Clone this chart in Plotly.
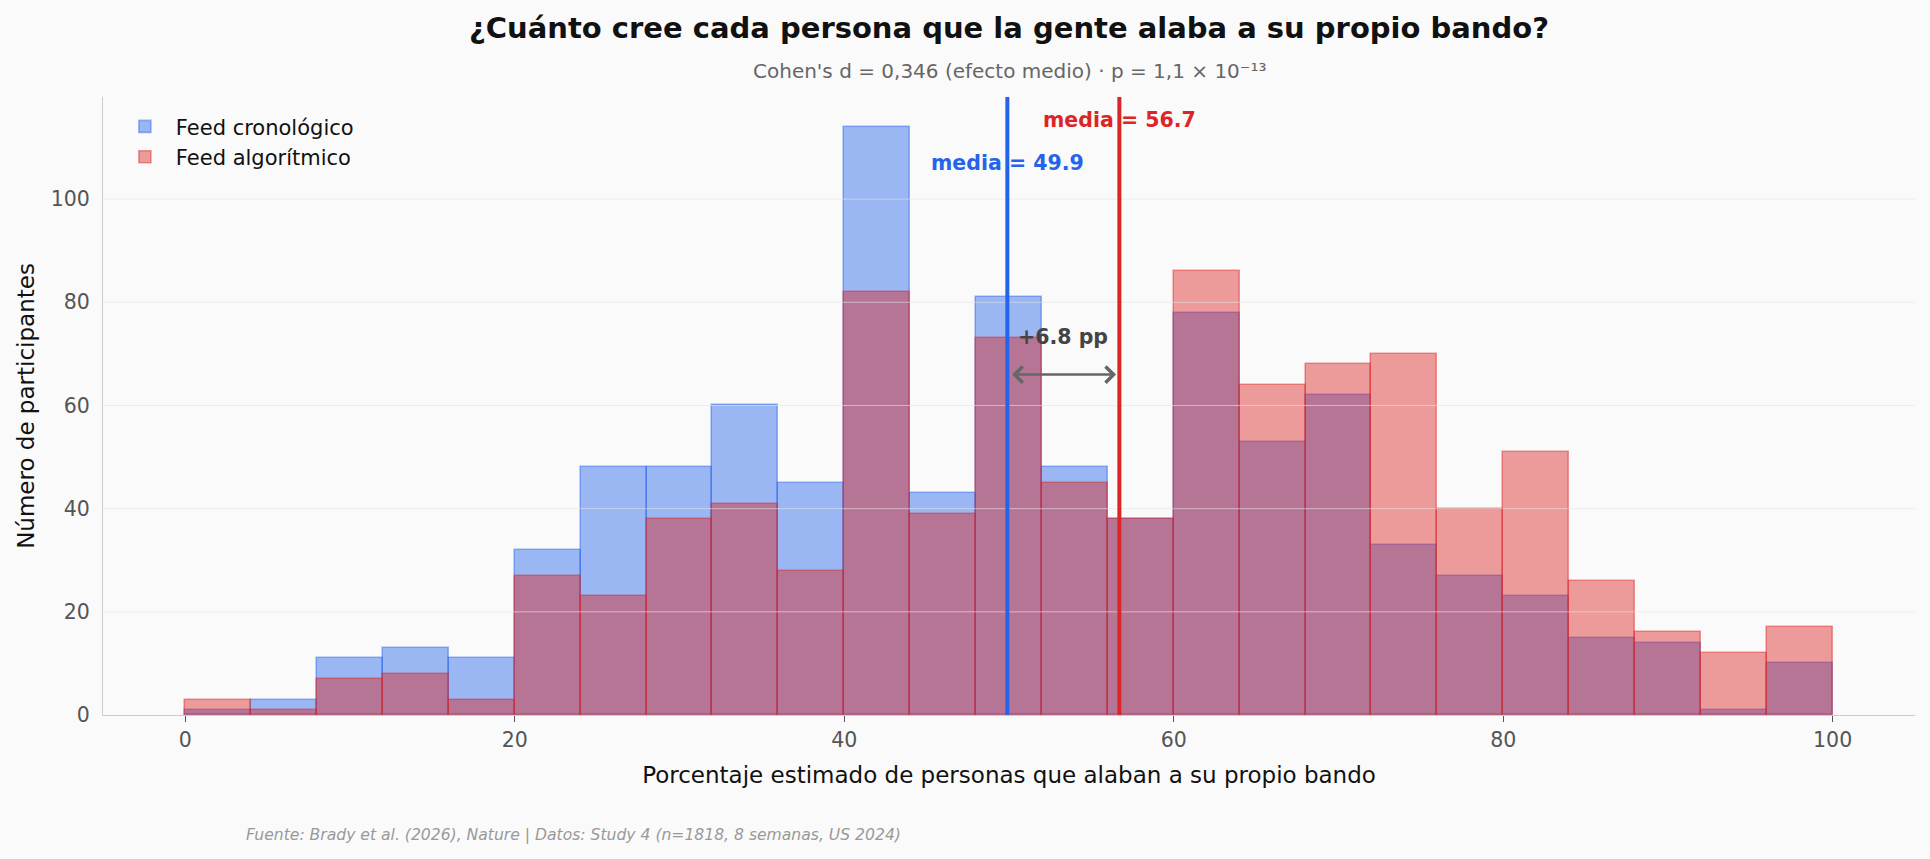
import plotly.graph_objects as go

# --- data ---
bin_starts = [0, 4, 8, 12, 16, 20, 24, 28, 32, 36, 40, 44, 48, 52, 56, 60, 64, 68, 72, 76, 80, 84, 88, 92, 96]
bin_width = 4
cronologico = [1, 3, 11, 13, 11, 32, 48, 48, 60, 45, 114, 43, 81, 48, 38, 78, 53, 62, 33, 27, 23, 15, 14, 1, 10]
algoritmico = [3, 1, 7, 8, 3, 27, 23, 38, 41, 28, 82, 39, 73, 45, 38, 86, 64, 68, 70, 40, 51, 26, 16, 12, 17]
mean_crono = 49.9
mean_algo = 56.7
diff_label = "+6.8 pp"
x_ticks = [0, 20, 40, 60, 80, 100]
y_ticks = [0, 20, 40, 60, 80, 100]

BLUE = "#2563eb"
RED = "#dc2626"
BLUE_A = "rgba(37,99,235,0.45)"
RED_A = "rgba(220,38,38,0.45)"
FONT = "DejaVu Sans"

# plot area in pixels (for placing texts outside the plot)
W, H = 1930, 859
ML, MR, MT, MB = 103, 15, 97, 144
PW, PH = W - ML - MR, H - MT - MB


def py(pix_y):
    return (H - MB - pix_y) / PH


def px(pix_x):
    return (pix_x - ML) / PW


centers = [b + bin_width / 2 for b in bin_starts]

fig = go.Figure()
fig.add_trace(go.Bar(
    x=centers, y=cronologico, width=bin_width, name="Feed cronológico",
    marker=dict(color=BLUE_A, line=dict(color=BLUE_A, width=1.6)),
))
fig.add_trace(go.Bar(
    x=centers, y=algoritmico, width=bin_width, name="Feed algorítmico",
    marker=dict(color=RED_A, line=dict(color=RED_A, width=1.6)),
))

shapes = []
for yv in y_ticks[1:]:
    shapes.append(dict(type="line", xref="paper", yref="y", x0=0, x1=1, y0=yv, y1=yv,
                       line=dict(color="rgba(228,228,228,0.6)", width=1), layer="above"))
shapes.append(dict(type="line", xref="x", yref="paper", x0=mean_crono, x1=mean_crono, y0=0, y1=1,
                   line=dict(color=BLUE, width=4), layer="above"))
shapes.append(dict(type="line", xref="x", yref="paper", x0=mean_algo, x1=mean_algo, y0=0, y1=1,
                   line=dict(color=RED, width=4), layer="above"))

annotations = [
    dict(x=0.5, y=py(28), xref="paper", yref="paper", xanchor="center", yanchor="middle",
         text="<b>¿Cuánto cree cada persona que la gente alaba a su propio bando?</b>",
         showarrow=False, font=dict(family=FONT, size=29, color="#111111")),
    dict(x=0.5, y=py(71), xref="paper", yref="paper", xanchor="center", yanchor="middle",
         text="Cohen's d = 0,346 (efecto medio) · p = 1,1 × 10⁻¹³",
         showarrow=False, font=dict(family=FONT, size=20, color="#666666")),
    dict(x=mean_crono, y=107, xref="x", yref="y", text=f"<b>media = {mean_crono}</b>",
         showarrow=False, font=dict(family=FONT, size=20.5, color=BLUE), xanchor="center"),
    dict(x=mean_algo, y=115.3, xref="x", yref="y", text=f"<b>media = {mean_algo}</b>",
         showarrow=False, font=dict(family=FONT, size=20.5, color=RED), xanchor="center"),
    dict(x=(mean_crono + mean_algo) / 2, y=73.3, xref="x", yref="y", text=f"<b>{diff_label}</b>",
         showarrow=False, font=dict(family=FONT, size=20.5, color="#444444"), xanchor="center"),
    dict(x=mean_algo - 0.2, y=66, ax=mean_crono + 0.2, ay=66, xref="x", yref="y", axref="x", ayref="y",
         text="", showarrow=True, arrowhead=4, arrowside="end+start", arrowsize=1.3,
         arrowwidth=2.4, arrowcolor="#666666"),
    dict(x=px(244), y=py(835), xref="paper", yref="paper", xanchor="left", yanchor="middle",
         text="<i>Fuente: Brady et al. (2026), Nature | Datos: Study 4 (n=1818, 8 semanas, US 2024)</i>",
         showarrow=False, font=dict(family=FONT, size=15.6, color="#999999")),
]

fig.update_layout(
    width=W, height=H,
    barmode="overlay", bargap=0,
    paper_bgcolor="#fafafa", plot_bgcolor="#fafafa",
    margin=dict(l=ML, r=MR, t=MT, b=MB),
    font=dict(family=FONT, color="#222222"),
    legend=dict(x=0.006, y=0.985, xanchor="left", yanchor="top", bgcolor="rgba(250,250,250,0.8)",
                font=dict(family=FONT, size=21, color="#111111"), itemwidth=52),
    xaxis=dict(range=[-5, 105], tickvals=x_ticks, showgrid=False, zeroline=False,
               showline=True, linecolor="#cccccc", linewidth=1.2,
               ticks="outside", ticklen=6, tickcolor="#555555",
               tickfont=dict(family=FONT, size=20.5, color="#555555"),
               title=dict(text="Porcentaje estimado de personas que alaban a su propio bando",
                          font=dict(family=FONT, size=23, color="#111111"), standoff=16)),
    yaxis=dict(range=[0, 119.8], tickvals=y_ticks, showgrid=False, zeroline=False,
               showline=True, linecolor="#cccccc", linewidth=1.2,
               ticks="", ticklabelstandoff=8,
               tickfont=dict(family=FONT, size=20.5, color="#555555"),
               title=dict(text="Número de participantes",
                          font=dict(family=FONT, size=23, color="#111111"), standoff=9)),
    shapes=shapes,
    annotations=annotations,
)

fig.write_html("out.html")
